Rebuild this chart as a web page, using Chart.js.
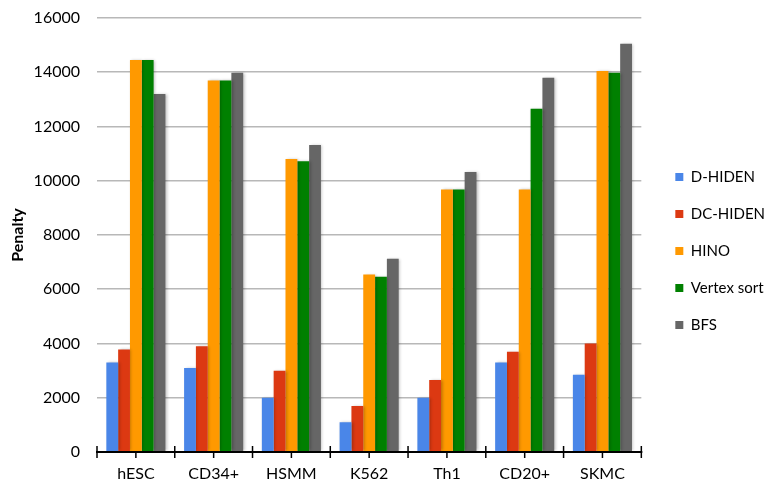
<!DOCTYPE html>
<html>
<head>
<meta charset="utf-8">
<script src="https://cdn.jsdelivr.net/npm/chart.js@4/dist/chart.umd.min.js"></script>
<style>
  html, body { margin: 0; padding: 0; background: #fff; }
  #wrap { width: 771px; height: 484px; }
</style>
</head>
<body>
<div id="wrap"><canvas id="c"></canvas></div>
<script>
const categories = ['hESC', 'CD34+', 'HSMM', 'K562', 'Th1', 'CD20+', 'SKMC'];
const dHiden     = [3300, 3100, 2000, 1100, 2000, 3300, 2850];
const dcHiden    = [3780, 3900, 3000, 1700, 2650, 3700, 4000];
const hino       = [14450, 13700, 10800, 6540, 9680, 9680, 14050];
const vertexSort = [14450, 13700, 10720, 6460, 9680, 12650, 13980];
const bfs        = [13200, 13980, 11320, 7120, 10320, 13800, 15050];
const yTicks     = [0, 2000, 4000, 6000, 8000, 10000, 12000, 14000, 16000];

const FONT = 'Lato, "Open Sans", sans-serif';

// soft drop shadow behind the bars
const barShadow = {
  id: 'barShadow',
  beforeDatasetsDraw(chart) {
    const ctx = chart.ctx;
    ctx.save();
    ctx.shadowColor = 'rgba(0,0,0,0.28)';
    ctx.shadowBlur = 3;
    ctx.shadowOffsetX = 1.5;
    ctx.shadowOffsetY = 0;
  },
  afterDatasetsDraw(chart) { chart.ctx.restore(); }
};

// category axis: baseline with crossing ticks at boundaries and short ticks at centres
const categoryAxis = {
  id: 'categoryAxis',
  afterDatasetsDraw(chart) {
    const ctx = chart.ctx;
    const x = chart.scales.x;
    const y = chart.scales.y.getPixelForValue(0);
    const n = categories.length;
    ctx.save();
    ctx.strokeStyle = '#000';
    ctx.lineWidth = 2;
    ctx.beginPath();
    ctx.moveTo(x.left - 1, y);
    ctx.lineTo(x.right + 1, y);
    ctx.stroke();
    ctx.lineWidth = 1.5;
    for (let i = 0; i <= n; i++) {
      let bx;
      if (i === 0) bx = x.left;
      else if (i === n) bx = x.right;
      else bx = (x.getPixelForValue(i - 1) + x.getPixelForValue(i)) / 2;
      ctx.beginPath();
      ctx.moveTo(bx, y - 6);
      ctx.lineTo(bx, y + 6);
      ctx.stroke();
    }
    for (let i = 0; i < n; i++) {
      const cx = x.getPixelForValue(i);
      ctx.beginPath();
      ctx.moveTo(cx, y);
      ctx.lineTo(cx, y + 6);
      ctx.stroke();
    }
    ctx.restore();
  }
};

const mk = (label, data, color) => ({
  label, data, backgroundColor: color, borderWidth: 0,
  barPercentage: 1.0, categoryPercentage: 0.76
});

new Chart(document.getElementById('c'), {
  type: 'bar',
  data: {
    labels: categories,
    datasets: [
      mk('D-HIDEN', dHiden, '#4a86e8'),
      mk('DC-HIDEN', dcHiden, '#dc3912'),
      mk('HINO', hino, '#ff9900'),
      mk('Vertex sort', vertexSort, '#008000'),
      mk('BFS', bfs, '#666666')
    ]
  },
  options: {
    responsive: true,
    maintainAspectRatio: false,
    animation: false,
    layout: { padding: { top: 18, right: -4, bottom: 0, left: 8 } },
    plugins: {
      tooltip: { enabled: false },
      legend: {
        position: 'right',
        align: 'center',
        labels: {
          font: { family: FONT, size: 15 },
          color: '#000',
          boxWidth: 8,
          boxHeight: 8,
          padding: 22
        }
      }
    },
    scales: {
      x: {
        grid: { display: false, drawTicks: false },
        border: { display: false },
        ticks: { font: { family: FONT, size: 16 }, color: '#000', padding: 12 },
        afterFit(s) { s.height = 32; s.paddingLeft = 0; s.paddingRight = 0; }
      },
      y: {
        min: 0,
        max: 16000,
        afterBuildTicks(scale) { scale.ticks = yTicks.map(v => ({ value: v })); },
        afterFit(s) { s.width = 89; s.paddingTop = 0; s.paddingBottom = 0; },
        grid: { color: '#b8b8b8', lineWidth: 1.6, drawTicks: false },
        border: { display: false },
        ticks: {
          font: { family: FONT, size: 16 }, color: '#000', padding: 17,
          callback: v => String(v)
        },
        title: {
          display: true,
          text: 'Penalty',
          font: { family: FONT, size: 16, weight: 'bold' },
          color: '#000',
          padding: { top: 0, bottom: 0 }
        }
      },
      // empty strip keeping the plot clear of the legend
      gap: {
        type: 'linear',
        position: 'right',
        display: true,
        grid: { display: false },
        border: { display: false },
        ticks: { display: false },
        afterFit(s) { s.width = 12; }
      }
    }
  },
  plugins: [barShadow, categoryAxis]
});
</script>
</body>
</html>
